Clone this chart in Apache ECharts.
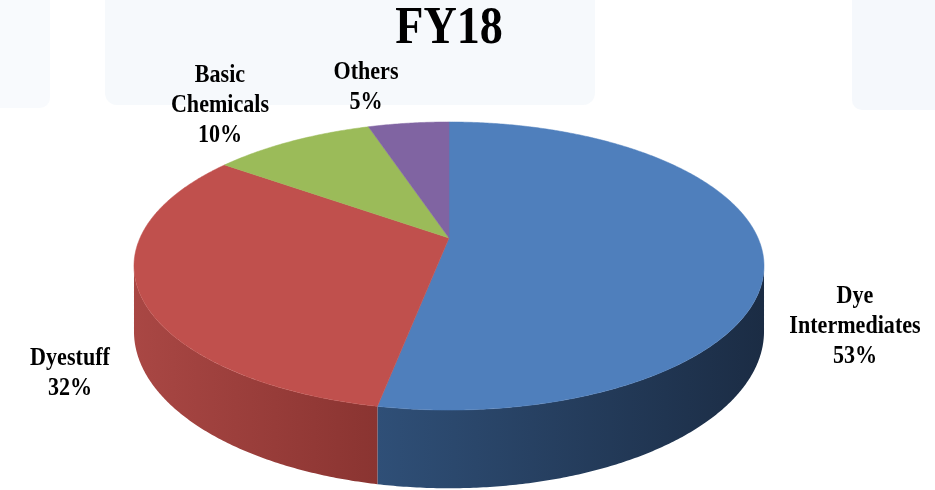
<!DOCTYPE html>
<html>
<head>
<meta charset="utf-8">
<title>FY18</title>
<script src="https://cdn.jsdelivr.net/npm/echarts@6/dist/echarts.min.js"></script>
<style>
  html, body { margin: 0; padding: 0; background: #ffffff; }
  #chart { width: 935px; height: 490px; }
</style>
</head>
<body>
<div id="chart"></div>
<script>
  // data
  const chartTitle = 'FY18';
  const categories = ['Dye\nIntermediates', 'Dyestuff', 'Basic\nChemicals', 'Others'];
  const shares = [53, 32, 10, 5];

  // styles
  const topColors = ['#4f7fbc', '#c0504d', '#9bbb59', '#8064a2'];
  const sideColors = [['#2f4f77', '#1b2c44'], ['#a94744', '#8a3431'], ['#76913f', '#637a33'], ['#5f4a7c', '#4e3d66']];
  const labelAnchors = [[855, 326], [70, 373], [220, 105], [366, 87]];
  const TEXT_SQUEEZE = 0.85;

  // perspective of the tilted disc
  const CX = 449, CY = 238, RX = 309, RY = 138.6, K = 0.1945, DEPTH = 63;
  const visLo = Math.acos(-K) * 180 / Math.PI;      // ~101.2 deg, right silhouette
  const visHi = 360 - visLo;                         // ~258.8 deg, left silhouette

  function project(phi, drop) {
    const a = phi * Math.PI / 180;
    const u = Math.sin(a), v = -Math.cos(a);
    const w = 1 - K * v;
    return [CX + RX * u / w, CY + RY * v / w + (drop || 0) / w];
  }

  function arc(from, to, drop) {
    const pts = [];
    const n = Math.max(2, Math.ceil((to - from) / 0.5));
    for (let s = 0; s <= n; s++) pts.push(project(from + (to - from) * s / n, drop));
    return pts;
  }

  const total = shares.reduce((a, b) => a + b, 0);

  const chart = echarts.init(document.getElementById('chart'));

  chart.setOption({
    backgroundColor: '#ffffff',
    animation: false,
    graphic: [
      { type: 'rect', z: -10, shape: { x: 105, y: -12, width: 490, height: 117, r: 12 }, style: { fill: 'rgba(214,228,243,0.22)' } },
      { type: 'rect', z: -10, shape: { x: 852, y: -12, width: 100, height: 122, r: 10 }, style: { fill: 'rgba(214,228,243,0.25)' } },
      { type: 'rect', z: -10, shape: { x: -10, y: -12, width: 60, height: 120, r: 10 }, style: { fill: 'rgba(214,228,243,0.18)' } },
      {
        type: 'text',
        x: 449,
        y: 29,
        scaleX: 0.87,
        style: {
          text: chartTitle,
          align: 'center',
          verticalAlign: 'middle',
          fontFamily: 'Liberation Serif',
          fontWeight: 'bold',
          fontSize: 53,
          fill: '#000000'
        }
      }
    ],
    series: [{
      type: 'custom',
      coordinateSystem: 'none',
      data: shares,
      renderItem: function (params, api) {
        const i = params.dataIndex;
        let before = 0;
        for (let j = 0; j < i; j++) before += shares[j];
        const start = before / total * 360;
        const end = (before + api.value(0)) / total * 360;
        const children = [];

        // front wall, only where it faces the viewer
        const lo = Math.max(start, visLo), hi = Math.min(end, visHi);
        if (hi > lo) {
          const topEdge = arc(lo, hi, 0);
          const bottomEdge = arc(lo, hi, DEPTH).reverse();
          const xs = topEdge.map(p => p[0]);
          const x0 = Math.min.apply(null, xs), x1 = Math.max.apply(null, xs);
          children.push({
            type: 'polygon',
            shape: { points: topEdge.concat(bottomEdge) },
            style: {
              fill: new echarts.graphic.LinearGradient(x0, 0, x1, 0, [
                { offset: 0, color: sideColors[i][0] },
                { offset: 1, color: sideColors[i][1] }
              ], true),
              stroke: null
            }
          });
        }

        // top face
        children.push({
          type: 'polygon',
          shape: { points: [[CX, CY]].concat(arc(start, end, 0)) },
          style: { fill: topColors[i], stroke: topColors[i], lineWidth: 0.5 }
        });

        children.push({
          type: 'text',
          x: labelAnchors[i][0],
          y: labelAnchors[i][1],
          scaleX: TEXT_SQUEEZE,
          style: {
            text: categories[i] + '\n' + api.value(0) + '%',
            align: 'center',
            verticalAlign: 'middle',
            fontFamily: 'Liberation Serif',
            fontWeight: 'bold',
            fontSize: 26,
            lineHeight: 30,
            fill: '#000000'
          }
        });

        return { type: 'group', children: children };
      }
    }]
  });
</script>
</body>
</html>
